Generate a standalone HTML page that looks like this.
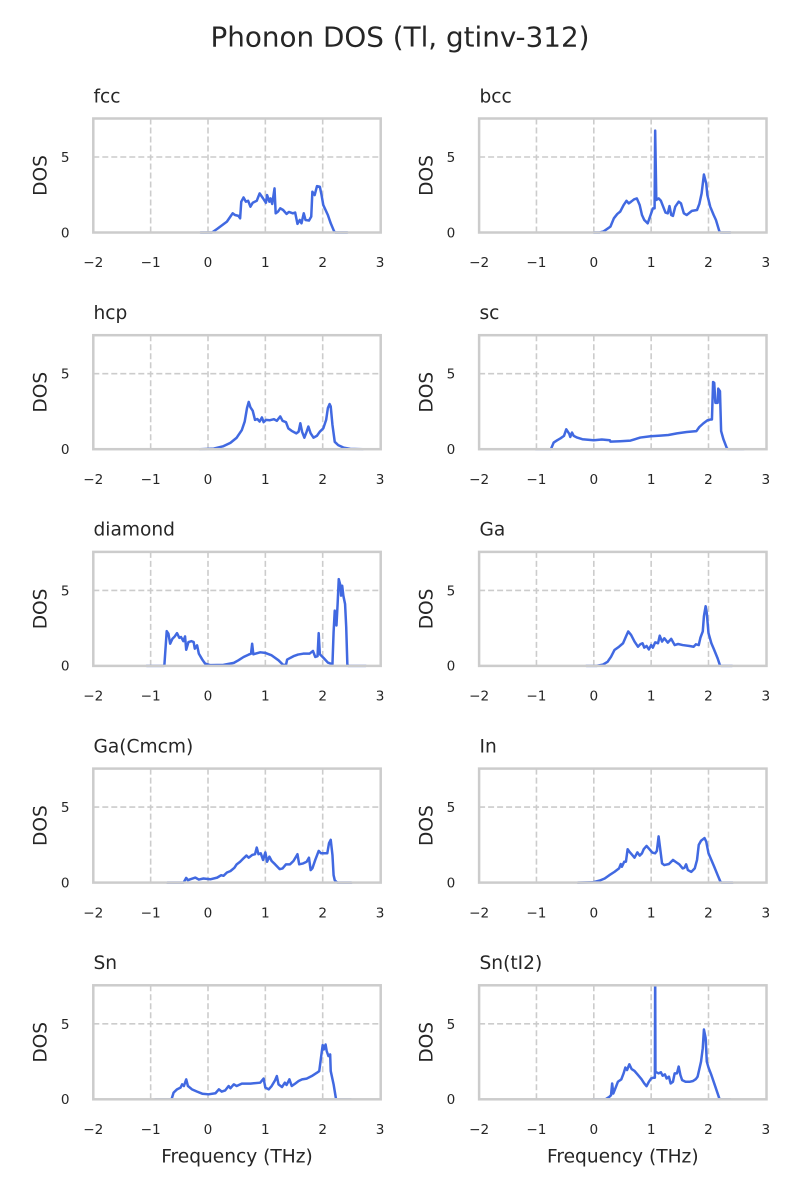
<!DOCTYPE html>
<html><head><meta charset="utf-8">
<style>
html,body{margin:0;padding:0;background:#fff;}
svg{display:block;}
text{font-family:"DejaVu Sans","Liberation Sans",sans-serif;fill:#262626;}
.tk{font-size:13.6px;}
.lab{font-size:18.6px;}
.ttl{font-size:18.6px;}
.grid{stroke:#cccccc;stroke-width:1.6;stroke-dasharray:6,3;fill:none;}
.sp{stroke:#cccccc;stroke-width:2.5;fill:none;}
.ln{fill:none;stroke:#4169e1;stroke-width:2.5;stroke-linejoin:round;stroke-linecap:round;}
</style></head>
<body>
<svg width="800" height="1200" viewBox="0 0 800 1200" xmlns="http://www.w3.org/2000/svg">
<defs>
<clipPath id="c10"><rect x="93.3" y="985.3" width="287.4" height="114"/></clipPath>
<clipPath id="c11"><rect x="479.1" y="985.3" width="287.4" height="114"/></clipPath>
</defs>
<rect width="800" height="1200" fill="#fff"/>
<text x="400" y="46.5" text-anchor="middle" style="font-size:27.8px">Phonon DOS (Tl, gtinv-312)</text>

<!-- ===== Row 1 ===== -->
<g>
<line class="grid" x1="150.65" y1="118.5" x2="150.65" y2="232.5"/>
<line class="grid" x1="208" y1="118.5" x2="208" y2="232.5"/>
<line class="grid" x1="265.35" y1="118.5" x2="265.35" y2="232.5"/>
<line class="grid" x1="322.7" y1="118.5" x2="322.7" y2="232.5"/>
<line class="grid" x1="93.3" y1="157" x2="380.7" y2="157"/>
<g transform="translate(208,232.5) scale(57.35,-15.1)">
<polyline class="ln" vector-effect="non-scaling-stroke" points="-0.13,0 0.07,0 0.16,0.24 0.33,0.72 0.39,1.05 0.43,1.27 0.47,1.16 0.53,1.1 0.56,0.94 0.58,2.04 0.62,2.32 0.66,2.04 0.70,2.1 0.74,1.71 0.78,1.97 0.85,2.1 0.9,2.59 0.96,2.26 1.01,1.97 1.03,2.48 1.07,2.04 1.09,2.26 1.12,1.89 1.16,2.92 1.18,1.27 1.22,1.38 1.26,1.6 1.31,1.49 1.37,1.23 1.41,1.36 1.48,1.27 1.52,1.32 1.56,0.57 1.6,0.83 1.63,0.61 1.67,1.27 1.7,0.83 1.76,0.79 1.8,1.05 1.82,2.7 1.86,2.48 1.9,3.07 1.95,3.03 1.98,2.48 2.01,1.82 2.09,1.16 2.14,0.61 2.2,0.07 2.22,0 2.43,0"/>
</g>
<rect class="sp" x="93.3" y="118.5" width="287.4" height="114"/>
<text class="ttl" x="93.5" y="102.3">fcc</text>
<text class="tk" x="69.5" y="237.3" text-anchor="end">0</text>
<text class="tk" x="69.5" y="162" text-anchor="end">5</text>
<g class="tk" text-anchor="middle">
<text x="93.3" y="267.2">−2</text><text x="150.65" y="267.2">−1</text><text x="208" y="267.2">0</text><text x="265.35" y="267.2">1</text><text x="322.7" y="267.2">2</text><text x="380.05" y="267.2">3</text>
</g>
<text class="lab" transform="translate(46.5,175.5) rotate(-90)" text-anchor="middle">DOS</text>
</g>

<g>
<line class="grid" x1="536.45" y1="118.5" x2="536.45" y2="232.5"/>
<line class="grid" x1="593.8" y1="118.5" x2="593.8" y2="232.5"/>
<line class="grid" x1="651.15" y1="118.5" x2="651.15" y2="232.5"/>
<line class="grid" x1="708.5" y1="118.5" x2="708.5" y2="232.5"/>
<line class="grid" x1="479.1" y1="157" x2="766.5" y2="157"/>
<g transform="translate(593.8,232.5) scale(57.35,-15.1)">
<polyline class="ln" vector-effect="non-scaling-stroke" points="0,0 0.1,0 0.17,0.07 0.29,0.39 0.35,0.94 0.41,1.23 0.46,1.38 0.52,1.82 0.57,2.1 0.61,1.93 0.65,2.04 0.70,2.19 0.75,2.26 0.8,1.82 0.84,1.16 0.88,0.83 0.94,0.61 0.99,1.16 1.03,1.6 1.06,1.6 1.07,6.75 1.09,2.15 1.13,2.26 1.17,2.1 1.21,1.71 1.25,1.32 1.29,1.27 1.32,1.75 1.35,1.16 1.38,1.1 1.42,1.71 1.48,2.04 1.52,1.93 1.57,1.27 1.62,1.16 1.71,1.43 1.8,1.49 1.84,1.89 1.88,2.59 1.92,3.84 1.96,3.25 1.98,2.48 2.03,1.71 2.09,1.16 2.13,0.83 2.19,0.07 2.21,0 2.38,0"/>
</g>
<rect class="sp" x="479.1" y="118.5" width="287.4" height="114"/>
<text class="ttl" x="479.5" y="102.3">bcc</text>
<text class="tk" x="455.3" y="237.3" text-anchor="end">0</text>
<text class="tk" x="455.3" y="162" text-anchor="end">5</text>
<g class="tk" text-anchor="middle">
<text x="479.1" y="267.2">−2</text><text x="536.45" y="267.2">−1</text><text x="593.8" y="267.2">0</text><text x="651.15" y="267.2">1</text><text x="708.5" y="267.2">2</text><text x="765.85" y="267.2">3</text>
</g>
<text class="lab" transform="translate(432.3,175.5) rotate(-90)" text-anchor="middle">DOS</text>
</g>

<!-- ===== Row 2 ===== -->
<g>
<line class="grid" x1="150.65" y1="335.2" x2="150.65" y2="449.2"/>
<line class="grid" x1="208" y1="335.2" x2="208" y2="449.2"/>
<line class="grid" x1="265.35" y1="335.2" x2="265.35" y2="449.2"/>
<line class="grid" x1="322.7" y1="335.2" x2="322.7" y2="449.2"/>
<line class="grid" x1="93.3" y1="373.7" x2="380.7" y2="373.7"/>
<g transform="translate(208,449.2) scale(57.35,-15.1)">
<polyline class="ln" vector-effect="non-scaling-stroke" points="-0.14,0 0.1,0.04 0.27,0.2 0.39,0.42 0.5,0.76 0.59,1.27 0.64,1.83 0.68,2.72 0.71,3.13 0.74,2.77 0.78,2.54 0.82,1.94 0.86,2.0 0.9,1.83 0.94,2.1 0.97,1.79 1.01,1.94 1.08,1.92 1.15,1.99 1.2,1.88 1.26,2.17 1.3,1.88 1.36,1.79 1.4,1.38 1.46,1.21 1.54,1.05 1.58,1.16 1.61,1.72 1.64,1.16 1.68,0.76 1.72,1.16 1.75,1.5 1.79,1.05 1.84,0.76 1.9,0.89 1.95,1.16 2.01,1.38 2.06,1.94 2.09,2.72 2.12,2.99 2.14,2.83 2.17,1.61 2.21,0.49 2.27,0.27 2.36,0.11 2.48,0.02 2.7,0"/>
</g>
<rect class="sp" x="93.3" y="335.2" width="287.4" height="114"/>
<text class="ttl" x="93.5" y="319">hcp</text>
<text class="tk" x="69.5" y="454" text-anchor="end">0</text>
<text class="tk" x="69.5" y="378.7" text-anchor="end">5</text>
<g class="tk" text-anchor="middle">
<text x="93.3" y="483.9">−2</text><text x="150.65" y="483.9">−1</text><text x="208" y="483.9">0</text><text x="265.35" y="483.9">1</text><text x="322.7" y="483.9">2</text><text x="380.05" y="483.9">3</text>
</g>
<text class="lab" transform="translate(46.5,392.2) rotate(-90)" text-anchor="middle">DOS</text>
</g>

<g>
<line class="grid" x1="536.45" y1="335.2" x2="536.45" y2="449.2"/>
<line class="grid" x1="593.8" y1="335.2" x2="593.8" y2="449.2"/>
<line class="grid" x1="651.15" y1="335.2" x2="651.15" y2="449.2"/>
<line class="grid" x1="708.5" y1="335.2" x2="708.5" y2="449.2"/>
<line class="grid" x1="479.1" y1="373.7" x2="766.5" y2="373.7"/>
<g transform="translate(593.8,449.2) scale(57.35,-15.1)">
<polyline class="ln" vector-effect="non-scaling-stroke" points="-1.01,0 -0.75,0 -0.74,0.07 -0.7,0.44 -0.64,0.59 -0.58,0.72 -0.52,0.88 -0.48,1.32 -0.43,1.03 -0.41,0.81 -0.38,1.1 -0.35,0.88 -0.29,0.77 -0.2,0.66 0,0.59 0.14,0.64 0.28,0.59 0.29,0.5 0.46,0.53 0.64,0.57 0.81,0.77 0.99,0.86 1.16,0.9 1.3,0.94 1.45,1.05 1.62,1.14 1.79,1.2 1.84,1.47 1.91,1.71 1.98,1.91 2.04,1.97 2.06,1.97 2.08,4.45 2.1,4.39 2.12,3.07 2.16,3.07 2.17,4.01 2.2,3.84 2.22,1.2 2.26,0.66 2.32,0.07 2.34,0 2.61,0"/>
</g>
<rect class="sp" x="479.1" y="335.2" width="287.4" height="114"/>
<text class="ttl" x="479.5" y="319">sc</text>
<text class="tk" x="455.3" y="454" text-anchor="end">0</text>
<text class="tk" x="455.3" y="378.7" text-anchor="end">5</text>
<g class="tk" text-anchor="middle">
<text x="479.1" y="483.9">−2</text><text x="536.45" y="483.9">−1</text><text x="593.8" y="483.9">0</text><text x="651.15" y="483.9">1</text><text x="708.5" y="483.9">2</text><text x="765.85" y="483.9">3</text>
</g>
<text class="lab" transform="translate(432.3,392.2) rotate(-90)" text-anchor="middle">DOS</text>
</g>

<!-- ===== Row 3 ===== -->
<g>
<line class="grid" x1="150.65" y1="551.9" x2="150.65" y2="665.9"/>
<line class="grid" x1="208" y1="551.9" x2="208" y2="665.9"/>
<line class="grid" x1="265.35" y1="551.9" x2="265.35" y2="665.9"/>
<line class="grid" x1="322.7" y1="551.9" x2="322.7" y2="665.9"/>
<line class="grid" x1="93.3" y1="590.4" x2="380.7" y2="590.4"/>
<g transform="translate(208,665.9) scale(57.35,-15.1)">
<polyline class="ln" vector-effect="non-scaling-stroke" points="-1.07,0 -0.77,0 -0.76,0.09 -0.72,2.3 -0.69,2.13 -0.66,1.47 -0.62,1.8 -0.58,1.95 -0.54,2.17 -0.5,1.86 -0.47,1.91 -0.43,1.64 -0.4,1.95 -0.38,1.07 -0.34,1.58 -0.29,1.64 -0.25,1.58 -0.23,1.14 -0.19,1.36 -0.16,0.81 -0.1,0.42 -0.05,0.15 0.04,0.05 0.27,0.07 0.45,0.2 0.53,0.37 0.62,0.59 0.71,0.75 0.75,0.81 0.77,1.47 0.79,0.77 0.91,0.9 1.0,0.86 1.11,0.7 1.23,0.37 1.31,0.07 1.36,0.07 1.38,0.42 1.49,0.64 1.57,0.75 1.66,0.81 1.77,0.81 1.83,0.99 1.87,0.59 1.91,0.64 1.93,2.17 1.95,0.77 2.01,0.55 2.09,0.22 2.17,0.11 2.19,2.24 2.21,3.66 2.24,2.68 2.26,4.1 2.28,5.75 2.31,5.31 2.32,4.65 2.34,5.31 2.36,4.65 2.39,4.1 2.41,2.57 2.43,0.09 2.45,0 2.75,0"/>
</g>
<rect class="sp" x="93.3" y="551.9" width="287.4" height="114"/>
<text class="ttl" x="93.5" y="535.7">diamond</text>
<text class="tk" x="69.5" y="670.7" text-anchor="end">0</text>
<text class="tk" x="69.5" y="595.4" text-anchor="end">5</text>
<g class="tk" text-anchor="middle">
<text x="93.3" y="700.6">−2</text><text x="150.65" y="700.6">−1</text><text x="208" y="700.6">0</text><text x="265.35" y="700.6">1</text><text x="322.7" y="700.6">2</text><text x="380.05" y="700.6">3</text>
</g>
<text class="lab" transform="translate(46.5,608.9) rotate(-90)" text-anchor="middle">DOS</text>
</g>

<g>
<line class="grid" x1="536.45" y1="551.9" x2="536.45" y2="665.9"/>
<line class="grid" x1="593.8" y1="551.9" x2="593.8" y2="665.9"/>
<line class="grid" x1="651.15" y1="551.9" x2="651.15" y2="665.9"/>
<line class="grid" x1="708.5" y1="551.9" x2="708.5" y2="665.9"/>
<line class="grid" x1="479.1" y1="590.4" x2="766.5" y2="590.4"/>
<g transform="translate(593.8,665.9) scale(57.35,-15.1)">
<polyline class="ln" vector-effect="non-scaling-stroke" points="-0.13,0 0.05,0 0.16,0.09 0.24,0.27 0.3,0.6 0.36,1.05 0.44,1.27 0.51,1.5 0.56,1.94 0.6,2.28 0.65,2.05 0.71,1.61 0.77,1.27 0.81,1.43 0.85,1.5 0.88,1.21 0.92,1.32 0.96,1.09 1.0,1.38 1.03,1.21 1.07,1.56 1.12,1.5 1.15,2.0 1.19,1.61 1.23,1.83 1.29,1.54 1.35,1.79 1.41,1.38 1.47,1.45 1.55,1.38 1.67,1.32 1.74,1.27 1.78,1.43 1.83,1.38 1.86,1.88 1.9,2.28 1.92,3.28 1.95,3.95 1.97,3.5 2.0,2.17 2.05,1.5 2.1,1.05 2.16,0.49 2.2,0.04 2.22,0 2.41,0"/>
</g>
<rect class="sp" x="479.1" y="551.9" width="287.4" height="114"/>
<text class="ttl" x="479.5" y="535.7">Ga</text>
<text class="tk" x="455.3" y="670.7" text-anchor="end">0</text>
<text class="tk" x="455.3" y="595.4" text-anchor="end">5</text>
<g class="tk" text-anchor="middle">
<text x="479.1" y="700.6">−2</text><text x="536.45" y="700.6">−1</text><text x="593.8" y="700.6">0</text><text x="651.15" y="700.6">1</text><text x="708.5" y="700.6">2</text><text x="765.85" y="700.6">3</text>
</g>
<text class="lab" transform="translate(432.3,608.9) rotate(-90)" text-anchor="middle">DOS</text>
</g>

<!-- ===== Row 4 ===== -->
<g>
<line class="grid" x1="150.65" y1="768.6" x2="150.65" y2="882.6"/>
<line class="grid" x1="208" y1="768.6" x2="208" y2="882.6"/>
<line class="grid" x1="265.35" y1="768.6" x2="265.35" y2="882.6"/>
<line class="grid" x1="322.7" y1="768.6" x2="322.7" y2="882.6"/>
<line class="grid" x1="93.3" y1="807.1" x2="380.7" y2="807.1"/>
<g transform="translate(208,882.6) scale(57.35,-15.1)">
<polyline class="ln" vector-effect="non-scaling-stroke" points="-0.71,0 -0.43,0 -0.42,0.04 -0.38,0.31 -0.35,0.16 -0.31,0.22 -0.22,0.33 -0.16,0.2 -0.08,0.27 0.04,0.22 0.16,0.33 0.23,0.49 0.27,0.45 0.33,0.67 0.39,0.76 0.46,0.98 0.5,1.21 0.56,1.38 0.62,1.61 0.67,1.79 0.71,1.65 0.77,1.83 0.82,1.88 0.85,2.32 0.88,1.88 0.92,1.94 0.96,1.5 1.0,2.0 1.03,1.38 1.07,1.72 1.11,1.43 1.17,1.21 1.25,0.89 1.3,0.94 1.36,1.21 1.43,1.21 1.49,1.43 1.56,1.88 1.59,1.21 1.66,1.27 1.72,1.38 1.76,1.65 1.79,0.83 1.82,0.94 1.87,1.5 1.93,2.1 1.97,1.94 2.01,1.94 2.08,1.94 2.11,2.61 2.14,2.83 2.17,1.83 2.19,0.49 2.21,0.16 2.24,0.04 2.26,0 2.5,0"/>
</g>
<rect class="sp" x="93.3" y="768.6" width="287.4" height="114"/>
<text class="ttl" x="93.5" y="752.4">Ga(Cmcm)</text>
<text class="tk" x="69.5" y="887.4" text-anchor="end">0</text>
<text class="tk" x="69.5" y="812.1" text-anchor="end">5</text>
<g class="tk" text-anchor="middle">
<text x="93.3" y="917.3">−2</text><text x="150.65" y="917.3">−1</text><text x="208" y="917.3">0</text><text x="265.35" y="917.3">1</text><text x="322.7" y="917.3">2</text><text x="380.05" y="917.3">3</text>
</g>
<text class="lab" transform="translate(46.5,825.6) rotate(-90)" text-anchor="middle">DOS</text>
</g>

<g>
<line class="grid" x1="536.45" y1="768.6" x2="536.45" y2="882.6"/>
<line class="grid" x1="593.8" y1="768.6" x2="593.8" y2="882.6"/>
<line class="grid" x1="651.15" y1="768.6" x2="651.15" y2="882.6"/>
<line class="grid" x1="708.5" y1="768.6" x2="708.5" y2="882.6"/>
<line class="grid" x1="479.1" y1="807.1" x2="766.5" y2="807.1"/>
<g transform="translate(593.8,882.6) scale(57.35,-15.1)">
<polyline class="ln" vector-effect="non-scaling-stroke" points="-0.28,0 -0.02,0.02 0.1,0.13 0.19,0.27 0.27,0.49 0.36,0.71 0.44,0.94 0.47,1.23 0.49,1.05 0.53,1.38 0.56,1.38 0.59,2.21 0.62,2.05 0.67,1.83 0.71,1.65 0.76,2.0 0.8,1.79 0.84,1.94 0.87,2.21 0.92,2.43 0.97,2.21 1.02,1.99 1.07,1.94 1.1,2.1 1.13,3.06 1.16,2.17 1.19,1.27 1.23,1.16 1.31,1.23 1.38,1.5 1.44,1.34 1.49,1.21 1.55,0.94 1.58,0.98 1.61,1.21 1.64,0.83 1.7,0.71 1.76,0.94 1.8,1.5 1.83,2.5 1.87,2.77 1.93,2.95 1.96,2.72 2.0,1.94 2.05,1.5 2.1,1.05 2.16,0.49 2.21,0.04 2.23,0 2.42,0"/>
</g>
<rect class="sp" x="479.1" y="768.6" width="287.4" height="114"/>
<text class="ttl" x="479.5" y="752.4">In</text>
<text class="tk" x="455.3" y="887.4" text-anchor="end">0</text>
<text class="tk" x="455.3" y="812.1" text-anchor="end">5</text>
<g class="tk" text-anchor="middle">
<text x="479.1" y="917.3">−2</text><text x="536.45" y="917.3">−1</text><text x="593.8" y="917.3">0</text><text x="651.15" y="917.3">1</text><text x="708.5" y="917.3">2</text><text x="765.85" y="917.3">3</text>
</g>
<text class="lab" transform="translate(432.3,825.6) rotate(-90)" text-anchor="middle">DOS</text>
</g>

<!-- ===== Row 5 ===== -->
<g>
<line class="grid" x1="150.65" y1="985.3" x2="150.65" y2="1099.3"/>
<line class="grid" x1="208" y1="985.3" x2="208" y2="1099.3"/>
<line class="grid" x1="265.35" y1="985.3" x2="265.35" y2="1099.3"/>
<line class="grid" x1="322.7" y1="985.3" x2="322.7" y2="1099.3"/>
<line class="grid" x1="93.3" y1="1023.8" x2="380.7" y2="1023.8"/>
<g clip-path="url(#c10)">
<g transform="translate(208,1099.3) scale(57.35,-15.1)">
<polyline class="ln" vector-effect="non-scaling-stroke" points="-0.92,0 -0.64,0 -0.63,0.07 -0.6,0.44 -0.54,0.66 -0.48,0.77 -0.45,0.99 -0.42,0.88 -0.38,1.32 -0.35,0.88 -0.28,0.66 -0.19,0.51 -0.1,0.37 0.01,0.33 0.13,0.4 0.19,0.66 0.24,0.51 0.3,0.59 0.36,0.88 0.39,0.73 0.45,0.99 0.5,0.88 0.59,1.04 0.74,1.04 0.91,1.1 0.97,1.37 1.0,0.77 1.06,0.66 1.11,0.88 1.17,1.26 1.2,1.54 1.23,0.99 1.29,0.81 1.34,1.1 1.37,0.95 1.42,1.32 1.46,0.88 1.52,1.04 1.58,1.21 1.64,1.32 1.72,1.37 1.81,1.54 1.9,1.76 1.94,1.87 1.97,2.75 2.0,3.59 2.02,3.3 2.05,3.63 2.07,3.19 2.1,2.86 2.13,2.97 2.14,1.87 2.19,0.99 2.23,0.07 2.25,0 2.49,0"/>
</g>
</g>
<rect class="sp" x="93.3" y="985.3" width="287.4" height="114"/>
<text class="ttl" x="93.5" y="969.1">Sn</text>
<text class="tk" x="69.5" y="1104.1" text-anchor="end">0</text>
<text class="tk" x="69.5" y="1028.8" text-anchor="end">5</text>
<g class="tk" text-anchor="middle">
<text x="93.3" y="1133.8">−2</text><text x="150.65" y="1133.8">−1</text><text x="208" y="1133.8">0</text><text x="265.35" y="1133.8">1</text><text x="322.7" y="1133.8">2</text><text x="380.05" y="1133.8">3</text>
</g>
<text class="lab" transform="translate(46.5,1042.3) rotate(-90)" text-anchor="middle">DOS</text>
<text class="lab" x="237" y="1162.5" text-anchor="middle">Frequency (THz)</text>
</g>

<g>
<line class="grid" x1="536.45" y1="985.3" x2="536.45" y2="1099.3"/>
<line class="grid" x1="593.8" y1="985.3" x2="593.8" y2="1099.3"/>
<line class="grid" x1="651.15" y1="985.3" x2="651.15" y2="1099.3"/>
<line class="grid" x1="708.5" y1="985.3" x2="708.5" y2="1099.3"/>
<line class="grid" x1="479.1" y1="1023.8" x2="766.5" y2="1023.8"/>
<g clip-path="url(#c11)">
<g transform="translate(593.8,1099.3) scale(57.35,-15.1)">
<polyline class="ln" vector-effect="non-scaling-stroke" points="-0.02,0 0.2,0 0.22,0.04 0.27,0.16 0.3,0.27 0.32,1.05 0.34,0.38 0.38,0.76 0.42,1.16 0.48,1.32 0.52,1.72 0.55,2.1 0.58,1.94 0.62,2.32 0.66,2.0 0.71,1.88 0.77,1.61 0.83,1.34 0.88,1.05 0.92,0.87 0.96,1.16 1.0,1.38 1.04,1.43 1.065,1.43 1.07,9 1.075,1.79 1.09,1.79 1.13,1.72 1.17,1.79 1.2,1.56 1.24,1.65 1.27,1.38 1.31,1.5 1.34,1.05 1.38,1.16 1.41,1.72 1.45,1.72 1.48,2.17 1.51,1.61 1.54,1.27 1.6,1.16 1.67,1.16 1.73,1.21 1.78,1.34 1.81,1.5 1.84,2.0 1.87,2.5 1.9,3.39 1.92,4.62 1.95,4.06 1.97,2.5 2.0,2.1 2.05,1.61 2.1,1.05 2.16,0.38 2.19,0.04 2.21,0 2.38,0"/>
</g>
</g>
<rect class="sp" x="479.1" y="985.3" width="287.4" height="114"/>
<text class="ttl" x="479.5" y="969.1">Sn(tI2)</text>
<text class="tk" x="455.3" y="1104.1" text-anchor="end">0</text>
<text class="tk" x="455.3" y="1028.8" text-anchor="end">5</text>
<g class="tk" text-anchor="middle">
<text x="479.1" y="1133.8">−2</text><text x="536.45" y="1133.8">−1</text><text x="593.8" y="1133.8">0</text><text x="651.15" y="1133.8">1</text><text x="708.5" y="1133.8">2</text><text x="765.85" y="1133.8">3</text>
</g>
<text class="lab" transform="translate(432.3,1042.3) rotate(-90)" text-anchor="middle">DOS</text>
<text class="lab" x="622.8" y="1162.5" text-anchor="middle">Frequency (THz)</text>
</g>
</svg>
</body></html>
